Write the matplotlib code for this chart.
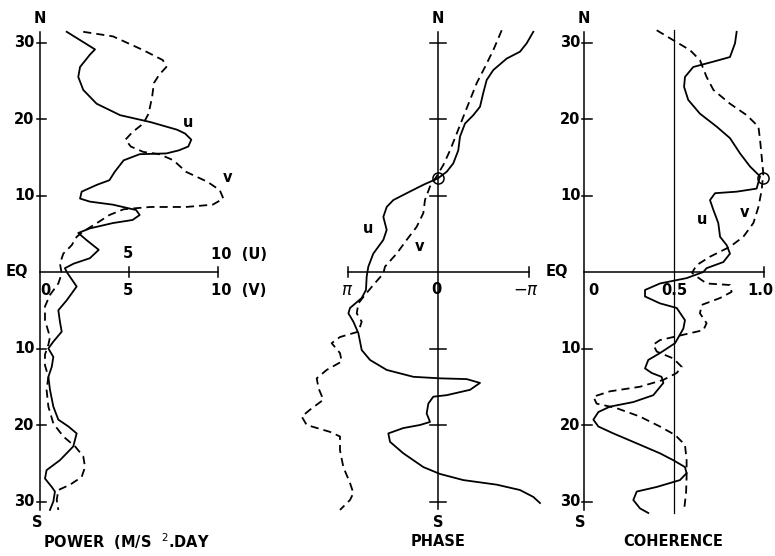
import numpy as np
import matplotlib.pyplot as plt

# latitude tick positions (positive = N, negative = S)
lat_ticks = [30, 20, 10, -10, -20, -30]
lat_labels = ['30', '20', '10', '10', '20', '30']

# ---- power panel (M/S ^2 . DAY) ----
pow_u_lat = [31.4, 29.1, 28.4, 26.8, 25.5, 23.8, 22.0, 20.5, 19.6, 18.6, 18.1, 17.3, 16.4, 15.9, 15.5, 15.4,
             14.6, 13.1, 12.0, 11.4, 10.5, 9.6, 9.2, 8.8, 8.1, 7.45, 6.8, 6.4, 5.7, 5.1, 4.2, 2.9,
             1.8, 1.1, 0.5, 0.0, -1.9, -3.7, -5.0, -6.5, -7.8, -9.1, -10.0, -11.1, -12.4, -13.7,
             -15.4, -17.6, -19.3, -20.2, -21.1, -22.8, -24.6, -25.9, -27.0, -28.1, -28.7, -30.0, -31.1]
pow_u_val = [1.5, 3.09, 2.8, 2.25, 2.15, 2.43, 3.18, 4.5, 6.2, 7.7, 8.15, 8.5, 8.33, 7.8, 7.1, 5.6,
             4.7, 4.2, 3.9, 3.2, 2.34, 2.25, 2.8, 4.1, 5.4, 5.6, 5.2, 4.1, 2.8, 2.15, 2.6, 3.3,
             2.8, 1.9, 1.4, 1.5, 2.06, 1.5, 1.03, 1.12, 1.22, 0.75, 0.47, 0.75, 0.66, 0.47,
             0.56, 0.75, 1.03, 1.6, 2.06, 1.87, 1.12, 0.37, 0.28, 0.66, 0.84, 0.75, 0.56]
pow_v_lat = [31.4, 30.8, 29.0, 27.7, 26.8, 25.8, 24.7, 22.9, 20.7, 19.4, 18.3, 17.3, 16.4, 15.7,
             15.4, 14.6, 13.1, 11.8, 10.7, 9.6, 8.8, 8.5, 8.5, 8.2, 7.45, 6.4, 5.3, 4.6, 3.5, 2.4,
             1.1, -0.2, -1.5, -3.0, -4.5, -6.3, -8.5, -9.5, -10.8, -12.2, -13.7, -15.4, -17.6,
             -19.8, -21.5, -22.8, -24.1, -25.5, -26.8, -27.8, -28.5, -29.8, -31.1]
pow_v_val = [2.43, 4.1, 5.8, 6.9, 7.1, 6.7, 6.4, 6.3, 6.1, 5.8, 5.2, 4.8, 5.1, 5.8,
             6.7, 7.5, 8.2, 9.4, 10.1, 10.3, 9.7, 8.2, 6.2, 4.7, 3.9, 3.2, 2.43, 2.06, 1.78, 1.31,
             1.12, 1.22, 1.03, 0.56, 0.28, 0.28, 0.56, 0.47, 0.28, 0.28, 0.47, 0.37, 0.47,
             0.75, 1.31, 1.97, 2.43, 2.53, 2.34, 1.69, 1.03, 0.94, 1.03]

# ---- phase panel (units of pi, pi on the left) ----
ph_u_lat = [31.4, 29.9, 28.8, 27.9, 26.4, 25.1, 23.4, 21.6, 20.5, 19.4, 17.7, 15.9, 14.2, 13.1,
            12.25, 11.4, 10.3, 9.4, 8.5, 7.2, 5.5, 4.2, 2.4, 0.7, -0.6, -2.35, -3.4, -4.7, -5.4,
            -6.5, -8.0, -10.2, -11.5, -12.8, -13.7, -13.9, -14.0, -14.5, -15.4, -16.1, -16.3,
            -17.2, -18.5, -19.6, -20.0, -20.4, -21.1, -22.2, -23.7, -25.5, -26.4, -27.2, -27.8,
            -28.5, -29.4, -30.2]
ph_u_val = [-1.053, -0.98, -0.906, -0.759, -0.611, -0.538, -0.5, -0.464, -0.39, -0.298, -0.243,
            -0.224, -0.169, -0.096, 0.0, 0.162, 0.346, 0.494, 0.567, 0.604, 0.567, 0.604, 0.715,
            0.77, 0.788, 0.796, 0.843, 0.972, 0.99, 0.935, 0.88, 0.843, 0.751, 0.567, 0.273,
            -0.022, -0.317, -0.464, -0.354, -0.096, 0.052, 0.107, 0.125, 0.088, 0.199, 0.383,
            0.549, 0.53, 0.383, 0.162, -0.022, -0.28, -0.649, -0.906, -1.053, -1.127]
ph_v_lat = [31.6, 29.0, 26.8, 24.7, 22.5, 20.3, 18.1, 15.9, 14.0, 12.5, 11.2, 9.4, 7.7, 5.9, 4.2,
            2.4, 0.7, -0.2, -1.7, -3.0, -4.1, -5.4, -6.5, -7.8, -8.5, -9.3, -10.6, -11.7, -12.8,
            -13.9, -15.2, -16.7, -18.0, -18.9, -20.0, -20.9, -21.5, -23.3, -25.5, -27.6, -28.9,
            -29.8, -31.1]
ph_v_val = [-0.704, -0.611, -0.519, -0.428, -0.354, -0.28, -0.207, -0.133, -0.059, 0.015, 0.088,
            0.144, 0.162, 0.236, 0.346, 0.457, 0.586, 0.604, 0.715, 0.807, 0.88, 0.898, 0.843,
            0.88, 1.083, 1.175, 1.083, 1.064, 1.23, 1.34, 1.32, 1.267, 1.414, 1.506, 1.451, 1.193,
            1.083, 1.083, 1.046, 0.972, 0.935, 0.972, 1.083]

# ---- coherence panel ----
co_u_lat = [31.4, 29.9, 28.1, 27.5, 26.8, 25.5, 24.2, 22.5, 20.7, 19.0, 17.5, 15.5, 13.8, 12.5,
            10.9, 10.5, 10.3, 9.4, 8.1, 6.4, 4.6, 3.5, 2.4, 1.3, 0.5, 0.0, -0.8, -1.5, -2.35, -3.2,
            -4.1, -4.7, -6.3, -7.4, -9.3, -10.6, -11.5, -12.6, -13.2, -13.7, -14.5, -16.1, -17.0,
            -17.6, -18.3, -19.3, -20.2, -21.1, -22.4, -23.7, -24.6, -25.5, -26.3, -27.2, -28.1,
            -28.7, -29.8, -30.9, -31.5]
co_u_val = [0.848, 0.839, 0.811, 0.719, 0.607, 0.561, 0.556, 0.579, 0.644, 0.737, 0.811, 0.867,
            0.922, 0.978, 0.959, 0.848, 0.728, 0.7, 0.719, 0.746, 0.756, 0.793, 0.811, 0.774,
            0.681, 0.663, 0.57, 0.422, 0.339, 0.339, 0.422, 0.515, 0.561, 0.552, 0.506, 0.422,
            0.357, 0.339, 0.376, 0.431, 0.441, 0.385, 0.274, 0.144, 0.08, 0.052, 0.08, 0.163,
            0.293, 0.422, 0.496, 0.561, 0.57, 0.533, 0.404, 0.293, 0.274, 0.311, 0.357]
co_v_lat = [31.6, 30.3, 29.0, 27.7, 25.5, 23.8, 22.0, 20.5, 19.0, 17.3, 15.1, 12.9, 10.7, 8.5, 6.4,
            4.6, 3.3, 2.0, 0.9, -0.1, -0.6, -1.5, -1.7, -2.6, -3.4, -4.3, -5.4, -6.7, -7.6, -8.2,
            -8.9, -9.5, -10.4, -11.3, -12.4, -13.2, -14.1, -15.0, -15.6, -16.3, -17.2, -17.8,
            -18.9, -20.2, -21.3, -22.6, -24.6, -26.8, -28.9, -31.1]
co_v_val = [0.404, 0.496, 0.589, 0.644, 0.681, 0.719, 0.811, 0.904, 0.969, 0.978, 0.987, 0.996,
            0.987, 0.969, 0.941, 0.885, 0.811, 0.7, 0.626, 0.6, 0.626, 0.681, 0.811, 0.82, 0.756,
            0.654, 0.644, 0.681, 0.663, 0.552, 0.422, 0.385, 0.404, 0.496, 0.543, 0.515, 0.441,
            0.311, 0.144, 0.052, 0.07, 0.181, 0.311, 0.422, 0.506, 0.561, 0.57, 0.57, 0.567, 0.556]

# point where u and v coincide (circle)
circ_lat = 12.3
circ_phase = 0.0
circ_coh = 0.994

fig = plt.figure(figsize=(7.75, 5.56), dpi=100)
W, H = 775.0, 556.0
lat0_px, px_deg = 272.0, 7.65
ylo, yhi = -35, 35
bottom = 1 - (lat0_px - ylo * px_deg) / H
height = (yhi - ylo) * px_deg / H

def make_ax(x0_px, px_unit, xlo, xhi):
    # x0_px is the pixel of data value 0, px_unit pixels per data unit (negative = reversed)
    p1 = x0_px + xlo * px_unit
    p2 = x0_px + xhi * px_unit
    ax = fig.add_axes([min(p1, p2) / W, bottom, abs(p2 - p1) / W, height])
    ax.set_ylim(ylo, yhi)
    ax.set_xlim(xlo, xhi)
    ax.axis('off')
    return ax

fkw = dict(fontsize=10.5, fontweight='bold', color='black')
lkw = dict(color='black', lw=1.1)
solid = dict(color='black', lw=1.3, solid_joinstyle='round')
dash = dict(color='black', lw=1.3, ls=(0, (4.5, 2.8)), dash_joinstyle='round')

# ---------------- power ----------------
ax1 = make_ax(40, 17.8, -1.5, 12)
ax1.plot([0, 0], [31.4, -31.1], **lkw)
ax1.plot([0, 10], [0, 0], **lkw)
for t in lat_ticks:
    ax1.plot([-0.15, 0.35], [t, t], **lkw)
for t in [5, 10]:
    ax1.plot([t, t], [-0.6, 0.6], **lkw)
for t, s in zip(lat_ticks, lat_labels):
    ax1.text(-0.3, t, s, ha='right', va='center', **fkw)
ax1.text(-0.65, 0, 'EQ', ha='right', va='center', **fkw)
ax1.text(0, 33.2, 'N', ha='center', va='center', **fkw)
ax1.text(-0.15, -32.7, 'S', ha='center', va='center', **fkw)
ax1.text(4.94, 2.4, '5', ha='center', va='center', **fkw)
ax1.text(9.6, 2.3, '10  (U)', ha='left', va='center', **fkw)
ax1.text(0.28, -2.4, '0', ha='center', va='center', **fkw)
ax1.text(4.94, -2.4, '5', ha='center', va='center', **fkw)
ax1.text(9.6, -2.4, '10  (V)', ha='left', va='center', **fkw)
ax1.text(0.15, -35.2, 'POWER  (M/S  $^{2}$.DAY', ha='left', va='center', **fkw)
ax1.plot(pow_u_val, pow_u_lat, **solid)
ax1.plot(pow_v_val, pow_v_lat, **dash)
ax1.text(8.3, 19.6, 'u', ha='center', va='center', **fkw)
ax1.text(10.56, 12.3, 'v', ha='center', va='center', **fkw)

# ---------------- phase ----------------
ax2 = make_ax(438, -90.5, 1.6, -1.25)
ax2.plot([0, 0], [31.4, -31.0], **lkw)
ax2.plot([1, -1], [0, 0], **lkw)
for t in lat_ticks:
    ax2.plot([0.09, -0.09], [t, t], **lkw)
for t in [1, -1]:
    ax2.plot([t, t], [-0.7, 0.7], **lkw)
ax2.text(0, 33.2, 'N', ha='center', va='center', **fkw)
ax2.text(0, -32.7, 'S', ha='center', va='center', **fkw)
ax2.text(1.0, -2.4, r'$\pi$', ha='center', va='center', fontsize=12, color='black')
ax2.text(0.02, -2.3, '0', ha='center', va='center', **fkw)
ax2.text(-0.97, -2.4, r'$-\pi$', ha='center', va='center', fontsize=12, color='black')
ax2.text(0, -35.2, 'PHASE', ha='center', va='center', **fkw)
ax2.plot(ph_u_val, ph_u_lat, **solid)
ax2.plot(ph_v_val, ph_v_lat, **dash)
ax2.plot([circ_phase], [circ_lat], marker='o', ms=8, mfc='none', mec='black', mew=1.1)
ax2.text(0.773, 5.75, 'u', ha='center', va='center', **fkw)
ax2.text(0.2, 3.3, 'v', ha='center', va='center', **fkw)

# ---------------- coherence ----------------
ax3 = make_ax(584, 180, -0.1, 1.05)
ax3.plot([0, 0], [31.4, -31.1], **lkw)
ax3.plot([0.5, 0.5], [31.6, -31.5], color='black', lw=0.9)
ax3.plot([0, 1.0], [0, 0], **lkw)
for t in lat_ticks:
    ax3.plot([-0.01, 0.045], [t, t], **lkw)
ax3.plot([1.0, 1.0], [-0.6, 0.6], **lkw)
for t, s in zip(lat_ticks, lat_labels):
    ax3.text(-0.02, t, s, ha='right', va='center', **fkw)
ax3.text(-0.09, 0, 'EQ', ha='right', va='center', **fkw)
ax3.text(0, 33.2, 'N', ha='center', va='center', **fkw)
ax3.text(-0.02, -32.7, 'S', ha='center', va='center', **fkw)
ax3.text(0.05, -2.4, '0', ha='center', va='center', **fkw)
ax3.text(0.5, -2.4, '0.5', ha='center', va='center', **fkw)
ax3.text(1.05, -2.4, '1.0', ha='right', va='center', **fkw)
ax3.text(0.494, -35.2, 'COHERENCE', ha='center', va='center', **fkw)
ax3.plot(co_u_val, co_u_lat, **solid)
ax3.plot(co_v_val, co_v_lat, **dash)
ax3.plot([circ_coh], [circ_lat], marker='o', ms=8, mfc='none', mec='black', mew=1.1,
         clip_on=False)
ax3.text(0.654, 6.8, 'u', ha='center', va='center', **fkw)
ax3.text(0.894, 7.8, 'v', ha='center', va='center', **fkw)

fig.savefig('out.png', dpi=100)
